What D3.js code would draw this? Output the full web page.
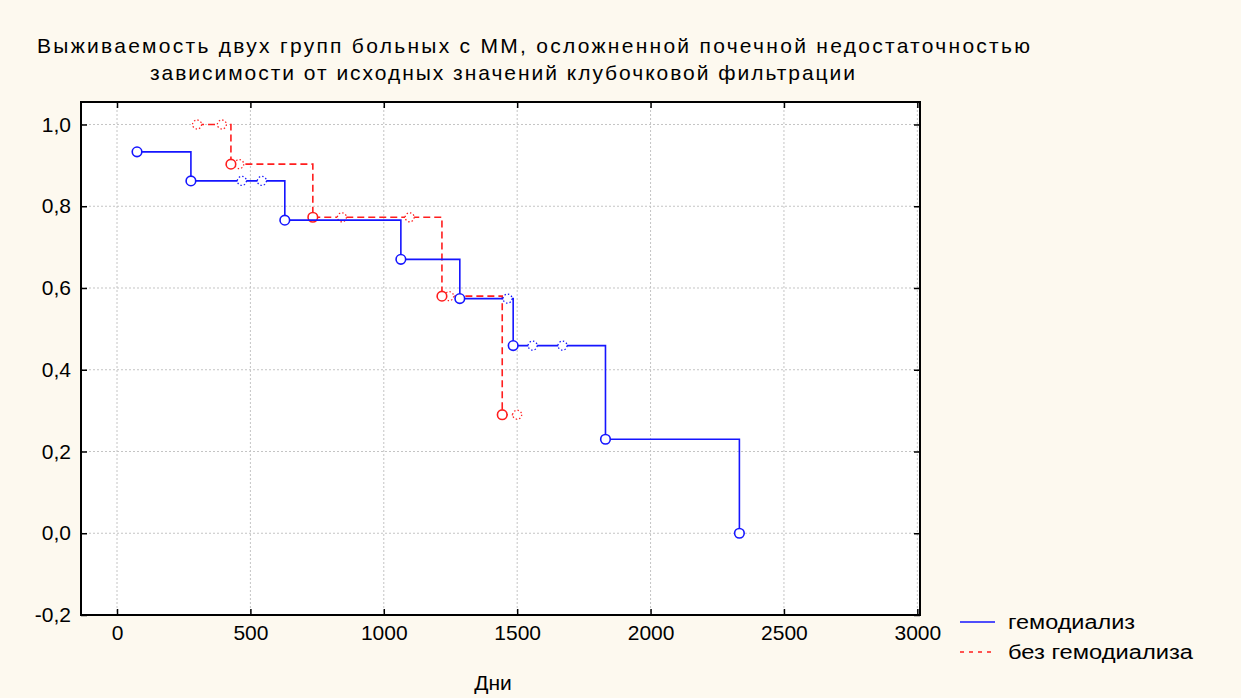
<!DOCTYPE html>
<html>
<head>
<meta charset="utf-8">
<script src="https://cdn.jsdelivr.net/npm/d3@7"></script>
<style>
  html, body { margin: 0; padding: 0; background: #fdf9ef; }
  svg { display: block; }
  text { font-family: "Liberation Sans", Arial, sans-serif; fill: #000; }
</style>
</head>
<body>
<svg id="chart" width="1241" height="698"></svg>
<script>
// Kaplan–Meier survival, two groups
const titleLines = [
  "Выживаемость двух групп больных с ММ, осложненной почечной недостаточностью",
  "зависимости от исходных значений клубочковой фильтрации"
];
const xLabel = "Дни";
const xTicks = [0, 500, 1000, 1500, 2000, 2500, 3000];
const yTicks = [-0.2, 0.0, 0.2, 0.4, 0.6, 0.8, 1.0];
const seriesNames = ["гемодиализ", "без гемодиализа"];

// гемодиализ: event times (days) and cumulative survival
const hdTime = [75, 277, 629, 1064, 1285, 1485, 1831, 2333];
const hdSurv = [0.933, 0.862, 0.766, 0.670, 0.574, 0.459, 0.230, 0.0];
// гемодиализ: censored observations
const hdCensTime = [468, 543, 1464, 1558, 1670];
const hdCensSurv = [0.862, 0.862, 0.574, 0.459, 0.459];

// без гемодиализа: event times and cumulative survival
const noTime = [427, 734, 1218, 1444];
const noSurv = [0.903, 0.773, 0.580, 0.290];
// без гемодиализа: censored observations
const noCensTime = [300, 393, 458, 843, 1097, 1245, 1500];
const noCensSurv = [1.0, 1.0, 0.903, 0.773, 0.773, 0.580, 0.290];

const svg = d3.select("#chart");
const W = 1241, H = 698;
const plot = { left: 81, right: 920, top: 102, bottom: 615 };
const narrow = "'Liberation Sans Narrow', 'Liberation Sans', Arial, sans-serif";
const regular = "'Liberation Sans', Arial, sans-serif";

const x = d3.scaleLinear().domain([-135, 3010]).range([plot.left, plot.right]);
const y = d3.scaleLinear().domain([-0.2, 1.055]).range([plot.bottom, plot.top]);

svg.append("rect").attr("width", W).attr("height", H).attr("fill", "#fdf9ef");

// Title
svg.append("text").attr("x", 37).attr("y", 53).attr("font-size", 21).attr("font-family", narrow)
  .attr("textLength", 993).attr("lengthAdjust", "spacing").text(titleLines[0]);
svg.append("text").attr("x", 150).attr("y", 80).attr("font-size", 21).attr("font-family", narrow)
  .attr("textLength", 705).attr("lengthAdjust", "spacing").text(titleLines[1]);

// Plot area
svg.append("rect")
  .attr("x", plot.left).attr("y", plot.top)
  .attr("width", plot.right - plot.left).attr("height", plot.bottom - plot.top)
  .attr("fill", "#ffffff");

// Grid
const grid = svg.append("g").attr("stroke", "#c4c4c4").attr("stroke-width", 1)
  .attr("stroke-dasharray", "2,2");
grid.selectAll("line.vx").data(xTicks).join("line")
  .attr("x1", d => x(d)).attr("x2", d => x(d))
  .attr("y1", plot.top).attr("y2", plot.bottom);
grid.selectAll("line.hy").data(yTicks).join("line")
  .attr("x1", plot.left).attr("x2", plot.right)
  .attr("y1", d => y(d)).attr("y2", d => y(d));

// Axes with inward ticks on all four sides
const fmt = d => d3.format(".1f")(d).replace(".", ",").replace("−", "-");
const axB = svg.append("g").attr("transform", `translate(0,${plot.bottom})`)
  .call(d3.axisBottom(x).tickValues(xTicks).tickSizeInner(-6).tickSizeOuter(0).tickPadding(10).tickFormat(d3.format("d")));
const axT = svg.append("g").attr("transform", `translate(0,${plot.top})`)
  .call(d3.axisTop(x).tickValues(xTicks).tickSizeInner(-6).tickSizeOuter(0).tickFormat(""));
const axL = svg.append("g").attr("transform", `translate(${plot.left},0)`)
  .call(d3.axisLeft(y).tickValues(yTicks).tickSizeInner(-6).tickSizeOuter(0).tickPadding(10).tickFormat(fmt));
const axR = svg.append("g").attr("transform", `translate(${plot.right},0)`)
  .call(d3.axisRight(y).tickValues(yTicks).tickSizeInner(-6).tickSizeOuter(0).tickFormat(""));
[axB, axT, axL, axR].forEach(a => {
  a.select(".domain").remove();
  a.selectAll(".tick line").attr("stroke", "#000").attr("stroke-width", 1.5);
  a.selectAll("text").attr("fill", "#000");
});
axB.selectAll(".tick text").attr("font-family", narrow).attr("font-size", 21);
axL.selectAll(".tick text").attr("font-family", regular).attr("font-size", 21);

// Frame
svg.append("rect")
  .attr("x", plot.left).attr("y", plot.top)
  .attr("width", plot.right - plot.left).attr("height", plot.bottom - plot.top)
  .attr("fill", "none").attr("stroke", "#000").attr("stroke-width", 2);

// Build a step path from events and censored observations
function stepPoints(evT, evS, ceT, ceS) {
  const obs = evT.map((t, i) => ({ t, s: evS[i], ev: true }))
    .concat(ceT.map((t, i) => ({ t, s: ceS[i], ev: false })))
    .sort((a, b) => a.t - b.t);
  const pts = [[obs[0].t, obs[0].s]];
  let level = obs[0].s;
  for (let i = 1; i < obs.length; i++) {
    pts.push([obs[i].t, level]);
    if (obs[i].ev) { pts.push([obs[i].t, obs[i].s]); level = obs[i].s; }
  }
  return pts;
}
const line = d3.line().x(d => x(d[0])).y(d => y(d[1]));

function drawSeries(evT, evS, ceT, ceS, color, dash) {
  const g = svg.append("g");
  g.append("path").attr("d", line(stepPoints(evT, evS, ceT, ceS)))
    .attr("fill", "none").attr("stroke", color).attr("stroke-width", 1.6)
    .attr("stroke-dasharray", dash);
  // censored: dotted open circles
  g.selectAll("circle.c").data(ceT).join("circle")
    .attr("cx", d => x(d)).attr("cy", (d, i) => y(ceS[i])).attr("r", 4.5)
    .attr("fill", "#fff").attr("stroke", color).attr("stroke-width", 1.3)
    .attr("stroke-dasharray", "1.4,2.1");
  // events: open circles
  g.selectAll("circle.e").data(evT).join("circle")
    .attr("cx", d => x(d)).attr("cy", (d, i) => y(evS[i])).attr("r", 4.8)
    .attr("fill", "#fff").attr("stroke", color).attr("stroke-width", 1.6);
}
drawSeries(noTime, noSurv, noCensTime, noCensSurv, "#ff1e1e", "7,4");
drawSeries(hdTime, hdSurv, hdCensTime, hdCensSurv, "#1515ff", null);

// Axis title
svg.append("text").attr("x", 493).attr("y", 690).attr("text-anchor", "middle")
  .attr("font-family", narrow).attr("font-size", 21).text(xLabel);

// Legend
const legend = svg.append("g");
const legColors = ["#1515ff", "#ff1e1e"];
const legDash = [null, "4,5"];
const legWidths = [127, 185];
seriesNames.forEach((name, i) => {
  const yy = 622 + i * 30;
  legend.append("line").attr("x1", 960).attr("x2", 995).attr("y1", yy).attr("y2", yy)
    .attr("stroke", legColors[i]).attr("stroke-width", 1.5).attr("stroke-dasharray", legDash[i]);
  legend.append("text").attr("x", 1008).attr("y", yy + 7).attr("font-size", 20)
    .attr("textLength", legWidths[i]).attr("lengthAdjust", "spacingAndGlyphs").text(name);
});
</script>
</body>
</html>
